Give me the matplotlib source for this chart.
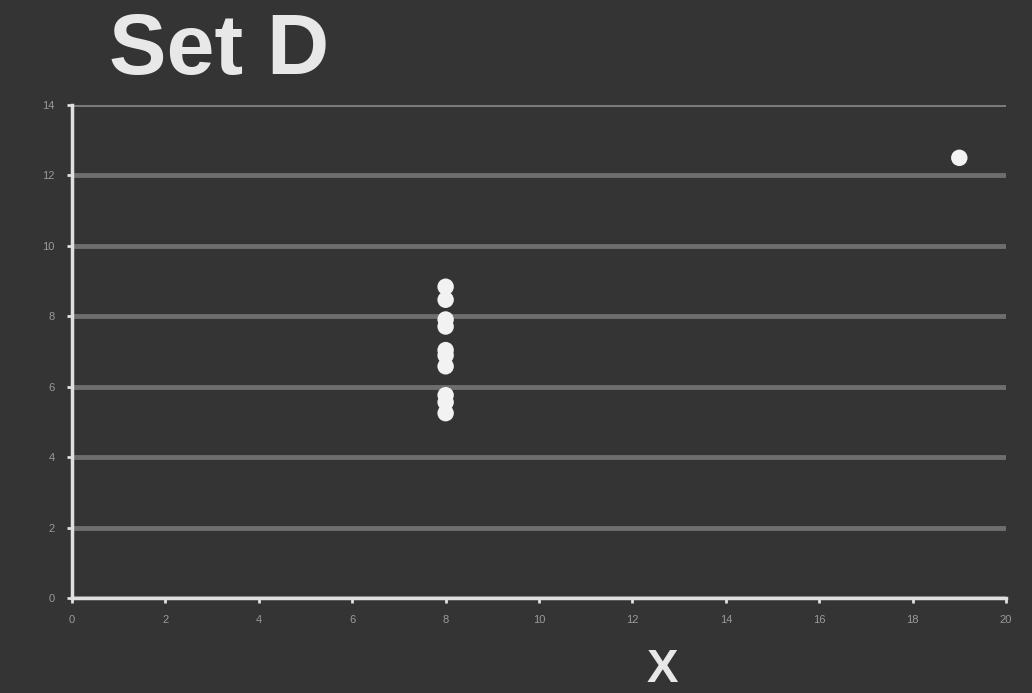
import matplotlib.pyplot as plt
import numpy as np

# Anscombe set IV
x = [8, 8, 8, 8, 8, 8, 8, 19, 8, 8, 8]
y = [6.58, 5.76, 7.71, 8.84, 8.47, 7.04, 5.25, 12.50, 5.56, 7.91, 6.89]
xticks = np.arange(0, 21, 2)
yticks = np.arange(0, 15, 2)

bg = '#343434'
plt.rcParams['font.family'] = ['Liberation Sans', 'DejaVu Sans']

fig = plt.figure(figsize=(10.32, 6.93), dpi=100, facecolor=bg)
ax = fig.add_axes([0.0698, 0.137, 0.905, 0.7115])
ax.set_facecolor(bg)

ax.scatter(x, y, s=140, color='#f2f2f2', edgecolors='none', zorder=3)

ax.set_xlim(0, 20)
ax.set_ylim(0, 14)
ax.set_xticks(xticks)
ax.set_yticks(yticks)
ax.grid(axis='y', color='#6e6e6e', linewidth=3.5, zorder=0)
ax.get_ygridlines()[-1].set_linewidth(2.2)
ax.get_ygridlines()[-1].set_color('#7a7a7a')
ax.set_axisbelow(True)

for side in ['top', 'right']:
    ax.spines[side].set_visible(False)
for side in ['left', 'bottom']:
    ax.spines[side].set_color('#e0e0e0')
    ax.spines[side].set_linewidth(2.5)

ax.tick_params(colors='#e0e0e0', width=2, length=3.5, labelsize=8,
               labelcolor='#9a9a9a', pad=9)

fig.text(0.106, 0.925, 'Set D', fontsize=62, fontweight='bold', color='#e8e8e8',
         ha='left', va='center')
fig.text(0.642, 0.033, 'X', fontsize=34, fontweight='bold', color='#e8e8e8',
         ha='center', va='center')

fig.savefig('out.png', dpi=100, facecolor=bg)
